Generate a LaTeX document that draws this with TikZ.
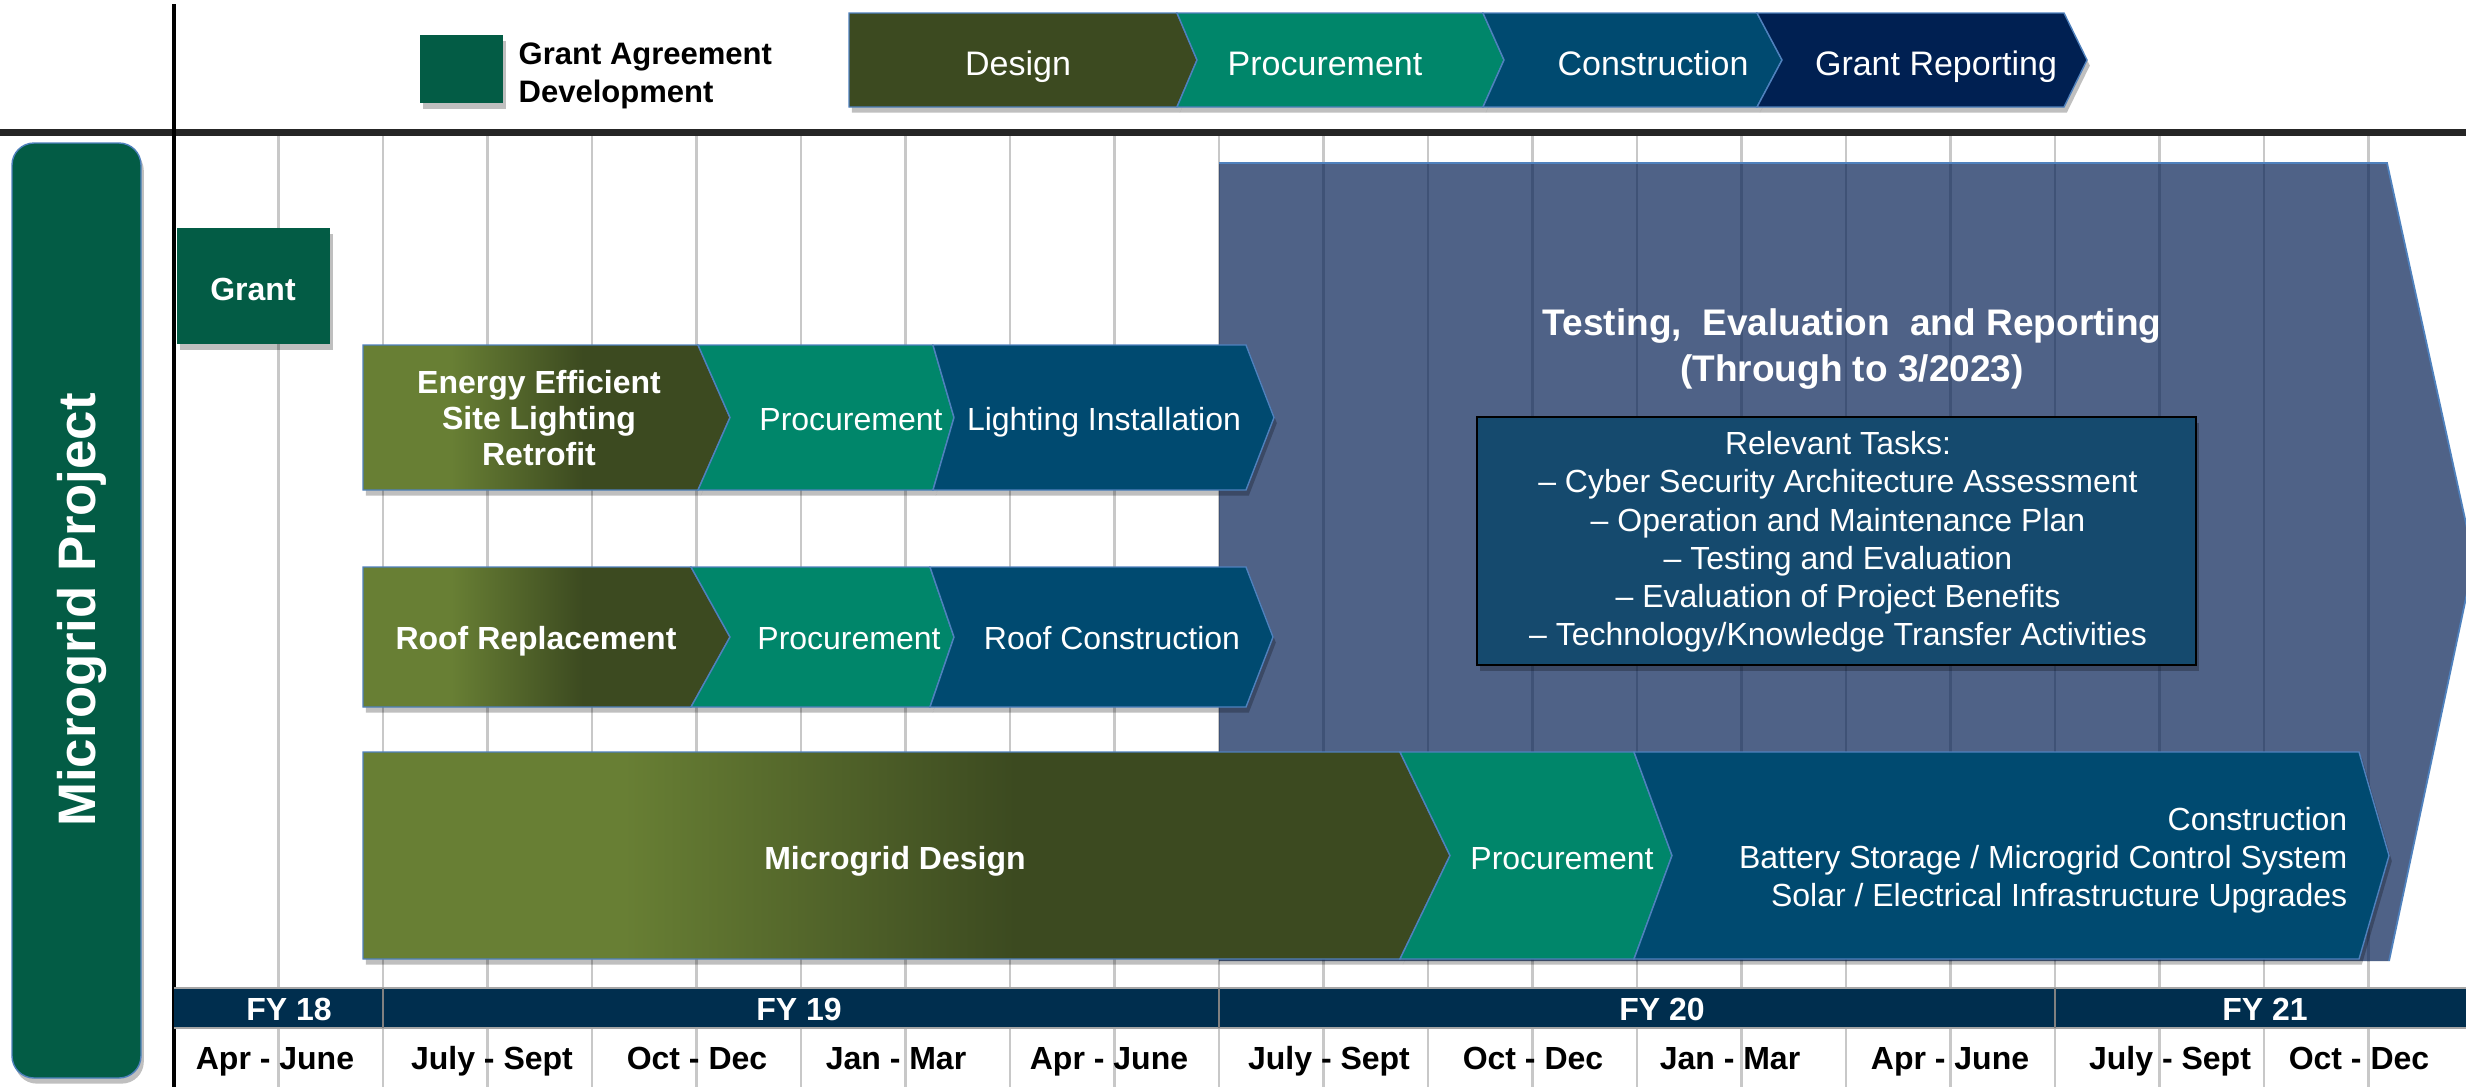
\documentclass[tikz,border=0pt]{standalone}
\usepackage{fontspec}
\setmainfont{Liberation Sans}
\usetikzlibrary{shadows}

\definecolor{grantgreen}{HTML}{035C45}
\definecolor{designdark}{HTML}{3C4A20}
\definecolor{oliveL}{HTML}{687F34}
\definecolor{procgreen}{HTML}{00866A}
\definecolor{constblue}{HTML}{004A70}
\definecolor{reportnavy}{HTML}{002052}
\definecolor{testblue}{HTML}{4F6287}
\definecolor{taskblue}{HTML}{154A6E}
\definecolor{fybar}{HTML}{002E4E}
\definecolor{edgeblue}{HTML}{4F81BD}
\definecolor{gridgray}{HTML}{C8C8C8}
\definecolor{griddark}{HTML}{3F5276}

\pgfdeclarehorizontalshading{olivefade}{100bp}{color(0bp)=(oliveL); color(37bp)=(oliveL); color(55bp)=(designdark); color(100bp)=(designdark)}

\newcommand{\rowfont}{\fontsize{9.1}{10.24}\selectfont}
\newcommand{\headfont}{\fontsize{9.67}{11}\selectfont}

\tikzset{
  chev/.style={draw=edgeblue, line width=0.4pt},
  shad/.style={drop shadow={shadow xshift=0.8pt, shadow yshift=-1.6pt, opacity=0.25, fill=black}},
  one/.style={text height=0.72em, text depth=0pt},
  lbl/.style={text=white, inner sep=0pt, align=center, font=\rowfont},
  hdl/.style={text=white, inner sep=0pt, font=\headfont, one},
  qlbl/.style={inner sep=0pt, font=\rowfont\bfseries, one},
  grid/.style={gridgray, line width=0.6pt}
}

\begin{document}
\begin{tikzpicture}[x=0.01cm, y=-0.01cm]
\useasboundingbox (0,0) rectangle (2466,1087);
\fill[white] (0,0) rectangle (2466,1087);

% quarter grid
\foreach \k in {1,...,21} \draw[grid] (174+104.5*\k,136) -- (174+104.5*\k,1087);

% testing and reporting
\fill[testblue] (1219,163) -- (2387,163) -- (2474,560) -- (2389,961) -- (1219,961) -- cycle;
\begin{scope}
  \clip (1219,163) -- (2387,163) -- (2474,560) -- (2389,961) -- (1219,961) -- cycle;
  \foreach \k in {10,...,21} \draw[griddark, line width=0.6pt] (174+104.5*\k,163) -- ++(0,800);
\end{scope}
\draw[edgeblue, line width=0.5pt] (1219,163) -- (2387,163) -- (2474,560) -- (2389,961);
\node[text=white, inner sep=0pt, align=center, font=\fontsize{10.53}{13.09}\selectfont\bfseries]
  (testtitle) at (1852,349) {Testing,\ \ Evaluation\ \ and Reporting\\(Through to 3/2023)};

% axis lines
\draw[black!85, line width=2pt] (0,132.5) -- (2466,132.5);
\draw[black, line width=1.1pt] (174,4) -- (174,1087);

% grant
\fill[grantgreen, shad] (177,228) rectangle (330,344);
\node[lbl, one, font=\rowfont\bfseries] (grant) at (253,288) {Grant};

% site lighting
\shade[shading=olivefade, chev, shad] (363,345) -- (698,345) -- (730,417.5) -- (698,490) -- (363,490) -- cycle;
\filldraw[fill=procgreen, chev, shad] (698,345) -- (933,345) -- (954,417.5) -- (933,490) -- (698,490) -- (730,417.5) -- cycle;
\filldraw[fill=constblue, chev, shad] (933,345) -- (1246,345) -- (1274,417.5) -- (1246,490) -- (933,490) -- (954,417.5) -- cycle;
\node[lbl, font=\rowfont\bfseries] (lightdes) at (539,418) {Energy Efficient\\Site Lighting\\Retrofit};
\node[lbl, one] (lightproc) at (851,418) {Procurement};
\node[lbl, one] (lightinst) at (1104,418) {Lighting Installation};

% roof
\shade[shading=olivefade, chev, shad] (363,567) -- (691,567) -- (730,637) -- (691,707) -- (363,707) -- cycle;
\filldraw[fill=procgreen, chev, shad] (691,567) -- (930,567) -- (954,637) -- (930,707) -- (691,707) -- (730,637) -- cycle;
\filldraw[fill=constblue, chev, shad] (930,567) -- (1246,567) -- (1273,637) -- (1246,707) -- (930,707) -- (954,637) -- cycle;
\node[lbl, one, font=\rowfont\bfseries] (roofdes) at (536,637) {Roof Replacement};
\node[lbl, one] (roofproc) at (849,637) {Procurement};
\node[lbl, one] (roofcons) at (1112,637) {Roof Construction};

% microgrid
\shade[shading=olivefade, chev, shad] (363,752) -- (1400,752) -- (1450,855.5) -- (1400,959) -- (363,959) -- cycle;
\filldraw[fill=procgreen, chev, shad] (1400,752) -- (1634,752) -- (1672,855.5) -- (1634,959) -- (1400,959) -- (1450,855.5) -- cycle;
\filldraw[fill=constblue, chev, shad] (1634,752) -- (2359,752) -- (2389,855.5) -- (2359,959) -- (1634,959) -- (1672,855.5) -- cycle;
\node[lbl, one, font=\rowfont\bfseries] (mgdes) at (895,857) {Microgrid Design};
\node[lbl, one] (mgproc) at (1562,857) {Procurement};
\node[lbl, align=right, anchor=east, font=\fontsize{9.1}{10.81}\selectfont] (mgcons) at (2348,860)
  {Construction\\Battery Storage / Microgrid Control System\\Solar / Electrical Infrastructure Upgrades};

% relevant tasks
\filldraw[fill=taskblue, draw=black, line width=0.7pt, shad] (1477,417) rectangle (2196,665);
\node[lbl, font=\fontsize{9.1}{10.87}\selectfont] (tasks) at (1838,542)
  {Relevant Tasks:\\
   -- Cyber Security Architecture Assessment\\
   -- Operation and Maintenance Plan\\
   -- Testing and Evaluation\\
   -- Evaluation of Project Benefits\\
   -- Technology/Knowledge Transfer Activities};

% fiscal years
\fill[fybar] (174,988) rectangle (2466,1028);
\draw[gray!70, line width=0.6pt] (174,988) -- (2466,988) (174,1028) -- (2466,1028);
\foreach \x in {383,1219,2055} \draw[gray, line width=0.6pt] (\x,988) -- (\x,1028);
\foreach \fx/\ft [count=\i] in {289/FY 18, 799/FY 19, 1662/FY 20, 2265/FY 21}
  \node[qlbl, text=white] (fy\i) at (\fx,1008) {\ft};
\foreach \qx/\qt [count=\i] in {275/Apr - June, 492/July - Sept, 697/Oct - Dec, 896/Jan - Mar, 1109/Apr - June,
    1329/July - Sept, 1533/Oct - Dec, 1730/Jan - Mar, 1950/Apr - June, 2170/July - Sept, 2359/Oct - Dec}
  \node[qlbl] (q\i) at (\qx,1057) {\qt};

% project band
\filldraw[fill=grantgreen, draw=edgeblue, line width=0.4pt, rounded corners=0.22cm, shad] (12,143) rectangle (141,1078);
\node[text=white, inner sep=0pt, rotate=90, font=\fontsize{15}{18}\selectfont\bfseries] (project) at (82,610) {Microgrid Project};

% legend and phases
\fill[grantgreen, shad] (420,35) rectangle (503,103);
\node[anchor=west, align=left, inner sep=0pt, font=\fontsize{8.82}{10.81}\selectfont\bfseries] (legend) at (518,76)
  {Grant Agreement\\Development};
\filldraw[fill=designdark, chev, shad] (849,13) -- (1177,13) -- (1197,60) -- (1177,107) -- (849,107) -- cycle;
\filldraw[fill=procgreen, chev, shad] (1177,13) -- (1483,13) -- (1504,60) -- (1483,107) -- (1177,107) -- (1197,60) -- cycle;
\filldraw[fill=constblue, chev, shad] (1483,13) -- (1757,13) -- (1782,60) -- (1757,107) -- (1483,107) -- (1504,60) -- cycle;
\filldraw[fill=reportnavy, chev, shad] (1757,13) -- (2064,13) -- (2087,60) -- (2064,107) -- (1757,107) -- (1782,60) -- cycle;
\node[hdl] (hdesign) at (1018,63) {Design};
\node[hdl] (hproc) at (1325,63) {Procurement};
\node[hdl] (hcons) at (1653,63) {Construction};
\node[hdl] (hreport) at (1936,63) {Grant Reporting};
\end{tikzpicture}
\end{document}
